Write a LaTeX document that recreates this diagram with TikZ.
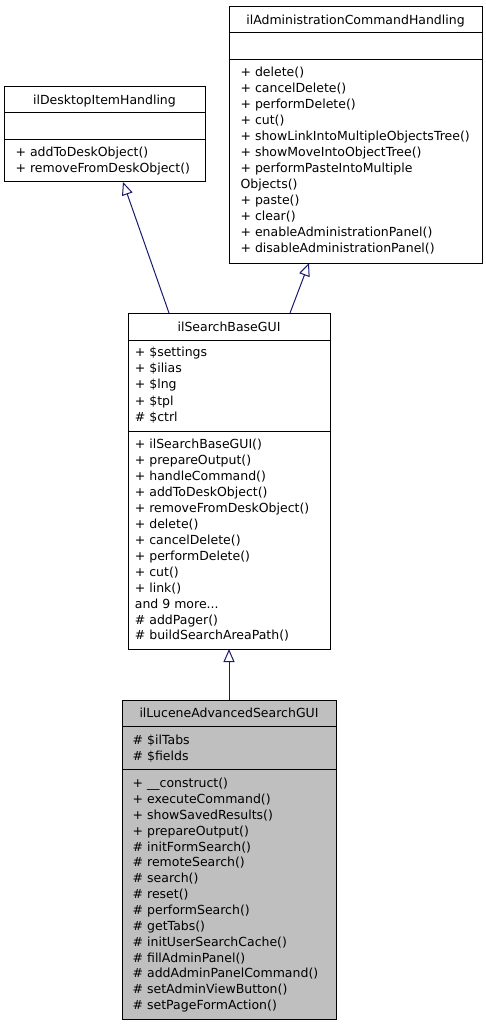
\documentclass[tikz,border=0pt]{standalone}
\usepackage{fontspec}
\setmainfont{DejaVu Sans}
\usetikzlibrary{arrows.meta}
\definecolor{edgeblue}{HTML}{191970}
\definecolor{lucfill}{HTML}{BFBFBF}
\newcommand{\mydots}{.{}.{}.}
\begin{document}
\begin{tikzpicture}[x=1pt,y=-1pt,
  cls/.style={draw=black, line width=1pt, anchor=north west, inner sep=0pt, outer sep=0pt, fill=white},
  divline/.style={line width=1pt, black},
  ttl/.style={font=\fontsize{12.5}{16}\selectfont, inner sep=0pt, text height=9.1pt, text depth=0pt, anchor=center},
  mem/.style={font=\fontsize{12.5}{16}\selectfont, inner sep=0pt, text height=9.1pt, text depth=0pt, anchor=west},
  inh/.style={draw=edgeblue, line width=1pt, -{Triangle[length=13pt, width=11pt, fill=white]}}]
\useasboundingbox (0,0) rectangle (485,1027);

% ilDesktopItemHandling
\node[cls, minimum width=201pt, minimum height=95pt] (dih) at (4,87) {};
\draw[divline] (4,113) -- (205,113);
\draw[divline] (4,140) -- (205,140);
\node[ttl] (dihT) at (104.5,100) {ilDesktopItemHandling};
\foreach [count=\i] \t in {{+ addToDeskObject()},{+ removeFromDeskObject()}}
  \node[mem] (dihM\i) at (15.4,{152+(\i-1)*16}) {\t};

% ilAdministrationCommandHandling
\node[cls, minimum width=253pt, minimum height=256pt] (ach) at (229,7) {};
\draw[divline] (229,33) -- (482,33);
\draw[divline] (229,60) -- (482,60);
\node[ttl] (achT) at (355.5,20) {ilAdministrationCommandHandling};
\foreach [count=\i] \t in {{+ delete()},{+ cancelDelete()},{+ performDelete()},{+ cut()},
  {+ showLinkIntoMultipleObjectsTree()},{+ showMoveIntoObjectTree()},{+ performPasteIntoMultiple},
  {Objects()},{+ paste()},{+ clear()},{+ enableAdministrationPanel()},{+ disableAdministrationPanel()}}
  \node[mem] (achM\i) at (240.4,{72+(\i-1)*16}) {\t};

% ilSearchBaseGUI
\node[cls, minimum width=202pt, minimum height=336pt] (sb) at (128,313) {};
\draw[divline] (128,340) -- (330,340);
\draw[divline] (128,431) -- (330,431);
\node[ttl] (sbT) at (229,327) {ilSearchBaseGUI};
\foreach [count=\i] \t in {{+ \$settings},{+ \$ilias},{+ \$lng},{+ \$tpl},{\# \$ctrl}}
  \node[mem] (sbA\i) at (134.7,{352+(\i-1)*16.2}) {\t};
\foreach [count=\i] \t in {{+ ilSearchBaseGUI()},{+ prepareOutput()},{+ handleCommand()},
  {+ addToDeskObject()},{+ removeFromDeskObject()},{+ delete()},{+ cancelDelete()},
  {+ performDelete()},{+ cut()},{+ link()},{and 9 more\mydots},{\# addPager()},{\# buildSearchAreaPath()}}
  \node[mem] (sbM\i) at (134.7,{444+(\i-1)*15.95}) {\t};

% ilLuceneAdvancedSearchGUI
\node[cls, fill=lucfill, minimum width=214pt, minimum height=319pt] (luc) at (122,700) {};
\draw[divline] (122,726) -- (336,726);
\draw[divline] (122,769) -- (336,769);
\node[ttl] (lucT) at (229,713) {ilLuceneAdvancedSearchGUI};
\foreach [count=\i] \t in {{\# \$ilTabs},{\# \$fields}}
  \node[mem] (lucA\i) at (132.5,{740+(\i-1)*16}) {\t};
\foreach [count=\i] \t in {{+ \_\_construct()},{+ executeCommand()},{+ showSavedResults()},
  {+ prepareOutput()},{\# initFormSearch()},{\# remoteSearch()},{\# search()},{\# reset()},
  {\# performSearch()},{\# getTabs()},{\# initUserSearchCache()},{\# fillAdminPanel()},
  {\# addAdminPanelCommand()},{\# setAdminViewButton()},{\# setPageFormAction()}}
  \node[mem] (lucM\i) at (132.5,{783+(\i-1)*15.86}) {\t};

% inheritance connectors
\draw[inh] ([xshift=41pt]sb.north west) -- ([xshift=119pt]dih.south west);
\draw[inh] ([xshift=162pt]sb.north west) -- ([xshift=80pt]ach.south west);
\draw[inh] (luc.north) -- (sb.south);
\end{tikzpicture}
\end{document}
